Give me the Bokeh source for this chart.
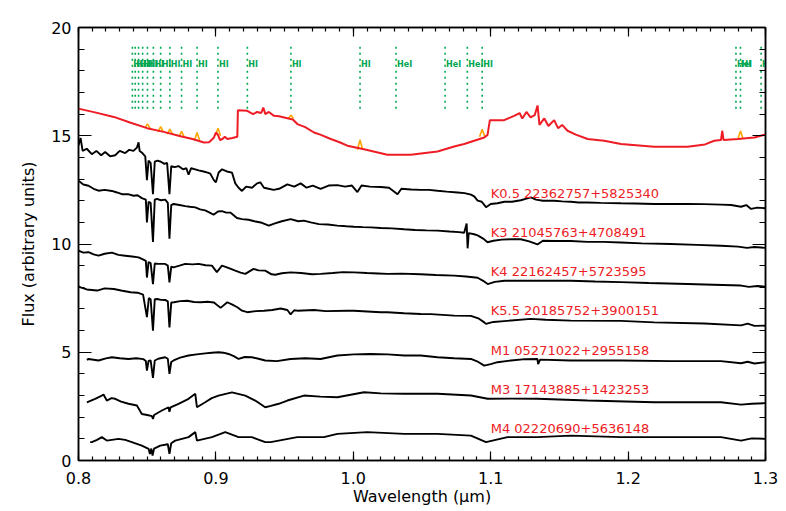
import numpy as np
from bokeh.plotting import figure
from bokeh.models import Range1d, LinearAxis, FixedTicker, CustomJSTickFormatter
from bokeh.embed import file_html
from bokeh.resources import INLINE
from bokeh.core.properties import value

# ---------------- data ----------------
x_ticks = [0.8, 0.9, 1.0, 1.1, 1.2, 1.3]
x_tick_labels = ["0.8", "0.9", "1.0", "1.1", "1.2", "1.3"]
y_ticks = [0, 5, 10, 15, 20]
y_tick_labels = ["0", "5", "10", "15", "20"]

# K0.5
k05_x = [0.800, 0.8015, 0.803, 0.806, 0.8097, 0.813, 0.8165, 0.8194, 0.823, 0.8267, 0.830, 0.834, 0.837, 0.840,
         0.8425, 0.8437, 0.8445, 0.8465, 0.8486, 0.8498, 0.8510, 0.8525, 0.8542, 0.8555, 0.8575, 0.860, 0.8625,
         0.8645, 0.8662, 0.8675, 0.870, 0.8728, 0.876, 0.8785, 0.8801, 0.882, 0.885, 0.8874, 0.891, 0.894, 0.8959,
         0.8985, 0.9000, 0.9020, 0.9045, 0.908, 0.9117, 0.9141, 0.9165, 0.919, 0.922, 0.9263, 0.930, 0.9323, 0.935,
         0.9384, 0.9420, 0.946, 0.952, 0.957, 0.9617, 0.966, 0.9705, 0.9762, 0.982, 0.9884, 0.994, 0.999, 1.0030,
         1.006, 1.012, 1.020, 1.026, 1.0322, 1.035, 1.042, 1.049, 1.055, 1.0613, 1.068, 1.0759, 1.081, 1.0856,
         1.0880, 1.0905, 1.0935, 1.0966, 1.100, 1.1049, 1.110, 1.1155, 1.1219, 1.126, 1.1292, 1.133, 1.138, 1.1462,
         1.152, 1.1583, 1.164, 1.1705, 1.180, 1.1948, 1.205, 1.219, 1.230, 1.2433, 1.255, 1.2676, 1.275, 1.2822,
         1.2860, 1.2895, 1.294, 1.300]
k05_y = [14.55, 14.9, 14.3, 14.4, 14.15, 14.3, 14.1, 14.25, 14.05, 14.1, 14.3, 14.2, 14.35, 14.3,
         14.45, 14.7, 14.3, 14.2, 14.05, 12.95, 13.85, 13.75, 12.3, 13.8, 13.85, 13.8, 13.7,
         13.75, 12.3, 13.6, 13.55, 13.6, 13.45, 13.5, 13.2, 13.5, 13.45, 13.4, 13.35, 13.3, 13.25,
         12.95, 12.85, 13.3, 13.45, 13.35, 13.3, 12.8, 12.6, 12.45, 12.65, 12.6, 12.8, 12.85, 12.6,
         12.55, 12.5, 12.55, 12.75, 12.65, 12.8, 12.6, 12.7, 12.55, 12.7, 12.72, 12.65, 12.7, 12.4,
         12.7, 12.65, 12.63, 12.6, 12.3, 12.55, 12.52, 12.5, 12.5, 12.46, 12.42, 12.38, 12.35, 12.28,
         12.2, 12.0, 11.95, 11.7, 11.85, 11.88, 11.95, 11.95, 12.02, 12.1, 12.15, 12.05, 12.0, 12.0,
         11.97, 11.95, 11.92, 11.92, 11.9, 11.88, 11.87, 11.85, 11.85, 11.85, 11.84, 11.82, 11.8, 11.72,
         11.8, 11.62, 11.68, 11.65]

# K3
k3_x = [0.800, 0.8035, 0.8073, 0.811, 0.8146, 0.819, 0.8243, 0.828, 0.8316, 0.836, 0.8401, 0.843, 0.8461, 0.8490,
        0.8498, 0.8510, 0.8525, 0.8542, 0.8555, 0.8571, 0.860, 0.8631, 0.8650, 0.8662, 0.8675, 0.8692, 0.8735,
        0.8777, 0.881, 0.8850, 0.8885, 0.8922, 0.8955, 0.8983, 0.9015, 0.9044, 0.9075, 0.9105, 0.9125, 0.9153,
        0.919, 0.9238, 0.928, 0.9335, 0.9385, 0.943, 0.948, 0.9544, 0.960, 0.964, 0.969, 0.975, 0.9815, 0.9884,
        0.995, 1.0005, 1.007, 1.0127, 1.020, 1.028, 1.037, 1.045, 1.0531, 1.0613, 1.0700, 1.0770, 1.0807, 1.0825,
        1.0832, 1.0840, 1.0880, 1.0905, 1.0945, 1.0977, 1.102, 1.108, 1.1150, 1.1219, 1.128, 1.134, 1.138, 1.146,
        1.1583, 1.1705, 1.182, 1.1948, 1.210, 1.2312, 1.250, 1.2676, 1.280, 1.2865, 1.292, 1.300]
k3_y = [12.92, 12.75, 12.69, 12.55, 12.46, 12.5, 12.45, 12.38, 12.3, 12.3, 12.23, 12.25, 12.12, 12.05,
        11.0, 11.95, 11.9, 10.1, 12.05, 12.08, 12.02, 12.05, 11.9, 10.25, 11.8, 11.85, 11.8,
        11.75, 11.72, 11.69, 11.6, 11.55, 11.45, 11.35, 11.5, 11.52, 11.45, 11.45, 11.35, 11.2,
        11.15, 11.12, 11.05, 10.98, 10.85, 10.95, 11.05, 11.15, 11.05, 11.08, 11.0, 10.92, 10.9, 10.85,
        10.82, 10.8, 10.78, 10.77, 10.74, 10.72, 10.68, 10.65, 10.63, 10.62, 10.58, 10.55, 10.52, 10.95,
        9.8, 10.5, 10.45, 10.4, 10.25, 10.08, 10.15, 10.2, 10.22, 10.22, 10.12, 9.98, 10.15, 10.14,
        10.14, 10.1, 10.1, 10.07, 10.03, 10.0, 9.96, 9.92, 9.88, 9.82, 9.86, 9.82]

# K4
k4_x = [0.800, 0.8035, 0.8073, 0.811, 0.8146, 0.819, 0.8243, 0.829, 0.834, 0.839, 0.8437, 0.8465, 0.8490, 0.8498,
        0.8510, 0.8525, 0.8542, 0.8555, 0.8580, 0.8631, 0.8650, 0.8662, 0.8675, 0.8692, 0.8735, 0.8777, 0.883,
        0.8874, 0.8925, 0.8971, 0.9007, 0.9044, 0.909, 0.9141, 0.918, 0.9214, 0.9274, 0.931, 0.9359, 0.9405,
        0.9432, 0.948, 0.9544, 0.962, 0.970, 0.9762, 0.985, 0.9925, 1.0005, 1.010, 1.018, 1.0248, 1.035, 1.049,
        1.060, 1.0734, 1.082, 1.0905, 1.0945, 1.0978, 1.103, 1.110, 1.1219, 1.135, 1.1583, 1.176, 1.1948, 1.215,
        1.2433, 1.262, 1.2822, 1.2880, 1.294, 1.300]
k4_y = [9.69, 9.6, 9.62, 9.52, 9.46, 9.55, 9.6, 9.5, 9.46, 9.42, 9.38, 9.3, 9.22, 8.45,
        9.17, 9.12, 8.15, 9.1, 9.08, 9.08, 9.0, 8.23, 8.95, 8.92, 9.0, 9.08, 9.06,
        9.08, 9.02, 9.0, 8.7, 9.0, 8.9, 8.77, 8.68, 8.62, 8.85, 8.78, 8.77, 8.6,
        8.58, 8.65, 8.69, 8.66, 8.6, 8.62, 8.66, 8.7, 8.69, 8.66, 8.64, 8.62, 8.63, 8.6,
        8.57, 8.54, 8.5, 8.44, 8.3, 8.15, 8.25, 8.3, 8.31, 8.3, 8.3, 8.27, 8.24, 8.2,
        8.15, 8.12, 8.08, 8.02, 8.06, 8.03]

# K5.5
k55_x = [0.800, 0.8015, 0.806, 0.8136, 0.819, 0.8257, 0.831, 0.8379, 0.843, 0.8470, 0.8498, 0.8512, 0.8525,
         0.8542, 0.8555, 0.8573, 0.860, 0.8634, 0.8650, 0.8662, 0.8675, 0.8695, 0.874, 0.8792, 0.884, 0.8889,
         0.894, 0.8986, 0.9034, 0.9083, 0.912, 0.9156, 0.919, 0.9228, 0.929, 0.935, 0.941, 0.9471, 0.952, 0.9544,
         0.957, 0.9593, 0.9714, 0.980, 0.9957, 1.0005, 1.0199, 1.0248, 1.037, 1.049, 1.0564, 1.0734, 1.0856,
         1.0915, 1.0953, 1.0965, 1.102, 1.1098, 1.1292, 1.140, 1.1583, 1.1948, 1.219, 1.2555, 1.2822, 1.2870,
         1.2920, 1.300]
k55_y = [8.05, 8.0, 7.9, 7.85, 7.95, 7.92, 7.85, 7.77, 7.75, 7.66, 6.62, 7.5, 7.45,
         6.0, 7.45, 7.46, 7.42, 7.41, 7.35, 6.15, 7.3, 7.31, 7.36, 7.38, 7.32, 7.31,
         7.33, 7.3, 7.05, 7.31, 7.2, 7.08, 6.92, 6.85, 6.9, 6.92, 6.95, 7.02, 6.95, 6.75,
         6.94, 6.92, 6.95, 6.9, 6.92, 6.92, 6.85, 6.85, 6.8, 6.77, 6.76, 6.69, 6.68,
         6.55, 6.38, 6.31, 6.4, 6.44, 6.54, 6.5, 6.46, 6.45, 6.38, 6.33, 6.24, 6.32,
         6.22, 6.23]

# M1
m1_x = [0.8061, 0.8073, 0.8146, 0.8200, 0.8243, 0.830, 0.8364, 0.8420, 0.8473, 0.8490, 0.8498, 0.8510, 0.8525,
        0.8542, 0.8555, 0.8580, 0.8631, 0.8650, 0.8662, 0.8675, 0.8692, 0.874, 0.8801, 0.8860, 0.8922, 0.8970,
        0.9019, 0.9055, 0.9092, 0.9130, 0.9165, 0.9210, 0.9262, 0.931, 0.9359, 0.9444, 0.9544, 0.9650, 0.9762,
        0.9884, 1.0005, 1.0127, 1.025, 1.037, 1.049, 1.0613, 1.0734, 1.0856, 1.0910, 1.0953, 1.100, 1.105,
        1.1147, 1.125, 1.1340, 1.1345, 1.136, 1.1583, 1.1948, 1.2312, 1.2676, 1.2822, 1.2870, 1.2920, 1.300]
m1_y = [4.65, 4.69, 4.62, 4.72, 4.77, 4.72, 4.69, 4.72, 4.68, 4.6, 4.15, 4.6, 4.62,
        3.82, 4.62, 4.7, 4.77, 4.7, 4.0, 4.55, 4.62, 4.75, 4.85, 4.9, 4.95, 4.98,
        5.0, 4.98, 4.92, 4.82, 4.69, 4.78, 4.77, 4.7, 4.62, 4.59, 4.69, 4.72, 4.69,
        4.85, 4.9, 4.92, 4.9, 4.85, 4.85, 4.77, 4.72, 4.69, 4.55, 4.38, 4.45, 4.54,
        4.62, 4.68, 4.69, 4.45, 4.66, 4.62, 4.62, 4.59, 4.59, 4.49, 4.56, 4.48, 4.54]

# M3
m3_x = [0.8061, 0.8121, 0.8170, 0.8182, 0.8206, 0.8240, 0.8267, 0.831, 0.8364, 0.8425, 0.8461, 0.850, 0.8534,
        0.8542, 0.855, 0.8607, 0.8655, 0.8662, 0.8670, 0.8728, 0.8801, 0.8850, 0.8862, 0.8922, 0.8970, 0.9019,
        0.9117, 0.9214, 0.9286, 0.9359, 0.9400, 0.9457, 0.952, 0.9641, 0.976, 0.9884, 1.0078, 1.020, 1.037,
        1.0613, 1.0856, 1.0978, 1.115, 1.134, 1.1705, 1.219, 1.2676, 1.2822, 1.290, 1.300]
m3_y = [2.69, 2.85, 3.0, 3.05, 2.77, 2.88, 2.85, 2.72, 2.62, 2.54, 2.15, 2.1, 2.05,
        1.92, 2.1, 2.31, 2.46, 2.25, 2.45, 2.62, 2.85, 3.08, 2.46, 2.69, 2.88, 3.0,
        3.15, 3.0, 2.77, 2.46, 2.52, 2.62, 2.77, 3.0, 2.95, 2.92, 3.15, 3.1, 3.08,
        3.08, 3.0, 2.85, 2.86, 2.85, 2.77, 2.69, 2.69, 2.58, 2.62, 2.65]

# M4
m4_x = [0.8085, 0.8097, 0.8135, 0.817, 0.8206, 0.8291, 0.8340, 0.8388, 0.8461, 0.851, 0.8520, 0.8530, 0.8539,
        0.8550, 0.8595, 0.8650, 0.8662, 0.8675, 0.8704, 0.8801, 0.8850, 0.8862, 0.8971, 0.9068, 0.9165, 0.9262,
        0.9359, 0.9398, 0.9457, 0.9592, 0.9786, 0.9884, 1.0102, 1.037, 1.0613, 1.0856, 1.0966, 1.1122, 1.134,
        1.1583, 1.1948, 1.2312, 1.2676, 1.2822, 1.290, 1.300]
m4_y = [0.85, 0.85, 0.95, 1.08, 0.92, 1.0, 0.95, 0.85, 0.69, 0.54, 0.3, 0.55, 0.23,
        0.55, 0.69, 0.75, 0.31, 0.8, 0.92, 1.08, 1.31, 0.92, 1.08, 1.31, 1.08, 1.08,
        0.85, 0.85, 0.92, 1.08, 1.08, 1.23, 1.31, 1.23, 1.23, 1.15, 0.85, 1.08, 1.08,
        1.15, 1.08, 1.08, 1.08, 0.92, 1.02, 1.0]

# comparison (red) spectrum
red_x = [0.800, 0.8015, 0.812, 0.8257, 0.838, 0.850, 0.862, 0.8743, 0.883, 0.8913, 0.895, 0.8975, 0.8986, 0.9000,
         0.9015, 0.9030, 0.9047, 0.9065, 0.9083, 0.912, 0.9156, 0.9160, 0.9228, 0.9270, 0.9300, 0.9330, 0.9345,
         0.9360, 0.9385, 0.9423, 0.946, 0.952, 0.9560, 0.9593, 0.9650, 0.9714, 0.976, 0.9836, 0.9900, 0.9957,
         1.0078, 1.0248, 1.0418, 1.0613, 1.0734, 1.0807, 1.0953, 1.0977, 1.0994, 1.1098, 1.1171, 1.1210, 1.1230,
         1.1260, 1.1290, 1.1320, 1.1341, 1.1355, 1.1390, 1.1420, 1.1462, 1.1490, 1.1520, 1.1559, 1.162, 1.1705,
         1.1826, 1.1948, 1.219, 1.2433, 1.2560, 1.2627, 1.2676, 1.2685, 1.2695, 1.2800, 1.2919, 1.300]
red_y = [16.25, 16.23, 16.08, 15.87, 15.6, 15.35, 15.18, 14.98, 14.85, 14.69, 14.7, 14.85, 14.92, 15.15,
         15.05, 14.8, 14.85, 14.95, 14.85, 14.9, 14.95, 16.18, 16.15, 16.0, 16.1, 16.05, 16.3,
         16.0, 16.1, 15.92, 15.9, 15.81, 15.75, 15.54, 15.4, 15.15, 15.05, 14.85, 14.7, 14.54,
         14.38, 14.12, 14.12, 14.27, 14.5, 14.62, 14.92, 15.04, 15.72, 15.72, 15.92, 16.05, 15.8,
         16.1, 15.85, 15.95, 16.4, 15.5, 15.8, 15.45, 15.72, 15.35, 15.5, 15.23, 15.05, 14.85,
         14.77, 14.62, 14.49, 14.49, 14.6, 14.77, 14.8, 15.23, 14.8, 14.85, 14.92, 15.06]

# orange emission bumps (line centre, continuum, peak)
em_x = [0.8502, 0.8598, 0.8665, 0.8750, 0.8863, 0.9015, 0.9546, 1.0049, 1.0938, 1.2818]
em_base = [15.35, 15.18, 15.08, 14.95, 14.78, 15.0, 15.8, 14.35, 14.95, 14.85]
em_peak = [15.55, 15.42, 15.3, 15.2, 15.15, 15.35, 15.95, 14.8, 15.3, 15.22]

# line identifications
hi_lines = [0.8392, 0.8413, 0.8437, 0.8467, 0.8502, 0.8545, 0.8598, 0.8665, 0.8750, 0.8863, 0.9015, 0.9229,
            0.9546, 1.0049, 1.0938, 1.2818]
hei_lines = [1.0311, 1.0668, 1.0830, 1.2785, 1.2968]

star_labels = ["K0.5  22362757+5825340", "K3  21045763+4708491", "K4  22162457+5723595",
               "K5.5  20185752+3900151", "M1  05271022+2955158", "M3  17143885+1423253",
               "M4  02220690+5636148"]
label_y = [12.34, 10.54, 8.72, 6.92, 5.08, 3.28, 1.48]
label_x = 1.1

# ---------------- figure ----------------
FONT = "DejaVu Sans"
RED = "#ee1c25"
GREEN = "#00a651"
ORANGE = "#ffa500"

p = figure(width=786, height=511, output_backend="svg", toolbar_location=None,
           x_range=Range1d(0.8, 1.3), y_range=Range1d(0, 20),
           x_axis_location=None, y_axis_location=None,
           min_border_left=78, min_border_right=21, min_border_top=27, min_border_bottom=51)
p.xgrid.visible = False
p.ygrid.visible = False
p.outline_line_color = "black"
p.outline_line_width = 1.5

x_minor = [round(0.8 + 0.01 * i, 3) for i in range(51)]
y_minor = list(range(21))
xfmt = CustomJSTickFormatter(code="return tick.toFixed(1);")
yfmt = CustomJSTickFormatter(code="return tick.toFixed(0);")
blank = CustomJSTickFormatter(code="return '';")


def style_axis(ax, tin, mtin, labels):
    ax.axis_line_color = "black"
    ax.axis_line_width = 1.5
    ax.major_tick_in = tin
    ax.major_tick_out = 0
    ax.minor_tick_in = mtin
    ax.minor_tick_out = 0
    ax.major_tick_line_color = "black"
    ax.minor_tick_line_color = "black"
    ax.major_tick_line_width = 1.2
    ax.minor_tick_line_width = 1.2
    if labels:
        ax.major_label_text_font = FONT
        ax.major_label_text_font_size = "16px"
        ax.major_label_text_color = "black"
        ax.axis_label_text_font = FONT
        ax.axis_label_text_font_size = "16px"
        ax.axis_label_text_font_style = "normal"
        ax.axis_label_text_color = "black"
    else:
        ax.major_label_standoff = 0


bx = LinearAxis(ticker=FixedTicker(ticks=x_ticks, minor_ticks=x_minor), formatter=xfmt,
                axis_label="Wavelength (μm)")
style_axis(bx, 9, 4, True)
bx.major_label_standoff = 11
bx.axis_label_standoff = 0
p.add_layout(bx, "below")

tx = LinearAxis(ticker=FixedTicker(ticks=x_ticks, minor_ticks=x_minor), formatter=blank)
style_axis(tx, 9, 4, False)
p.add_layout(tx, "above")

ly = LinearAxis(ticker=FixedTicker(ticks=y_ticks, minor_ticks=y_minor), formatter=yfmt,
                axis_label="Flux (arbitrary units)")
style_axis(ly, 13, 6, True)
ly.major_label_standoff = 7
ly.axis_label_standoff = 10
p.add_layout(ly, "left")

ry = LinearAxis(ticker=FixedTicker(ticks=y_ticks, minor_ticks=y_minor), formatter=blank)
style_axis(ry, 13, 6, False)
p.add_layout(ry, "right")

# green line markers
for xl in hi_lines + hei_lines:
    p.line([xl, xl], [16.25, 19.15], line_color=GREEN, line_width=1.6, line_dash="2 4")
hw = 0.0019
p.text(x=hi_lines, y=[18.27] * len(hi_lines), text=["HI"] * len(hi_lines), text_font=value(FONT),
       text_font_size=value("8px"), text_font_style="bold", text_color=GREEN, text_baseline="middle",
       text_align="left", x_offset=1)
p.text(x=hei_lines, y=[18.27] * len(hei_lines), text=["HeI"] * len(hei_lines), text_font=value(FONT),
       text_font_size=value("8px"), text_font_style="bold", text_color=GREEN, text_baseline="middle",
       text_align="left", x_offset=1)

# orange bumps then red spectrum
p.multi_line(xs=[[c - hw, c, c + hw] for c in em_x],
             ys=[[b, pk, b] for b, pk in zip(em_base, em_peak)],
             line_color=ORANGE, line_width=1.6)
p.line(red_x, red_y, line_color=RED, line_width=2)

for xs, ys in [(k05_x, k05_y), (k3_x, k3_y), (k4_x, k4_y), (k55_x, k55_y), (m1_x, m1_y), (m3_x, m3_y), (m4_x, m4_y)]:
    p.line(xs, ys, line_color="black", line_width=1.9)

p.text(x=[label_x] * len(star_labels), y=label_y, text=star_labels, text_font=value(FONT),
       text_font_size=value("13px"), text_color=RED, text_baseline="middle", text_align="left")

open("out.html", "w").write(file_html(p, INLINE))
